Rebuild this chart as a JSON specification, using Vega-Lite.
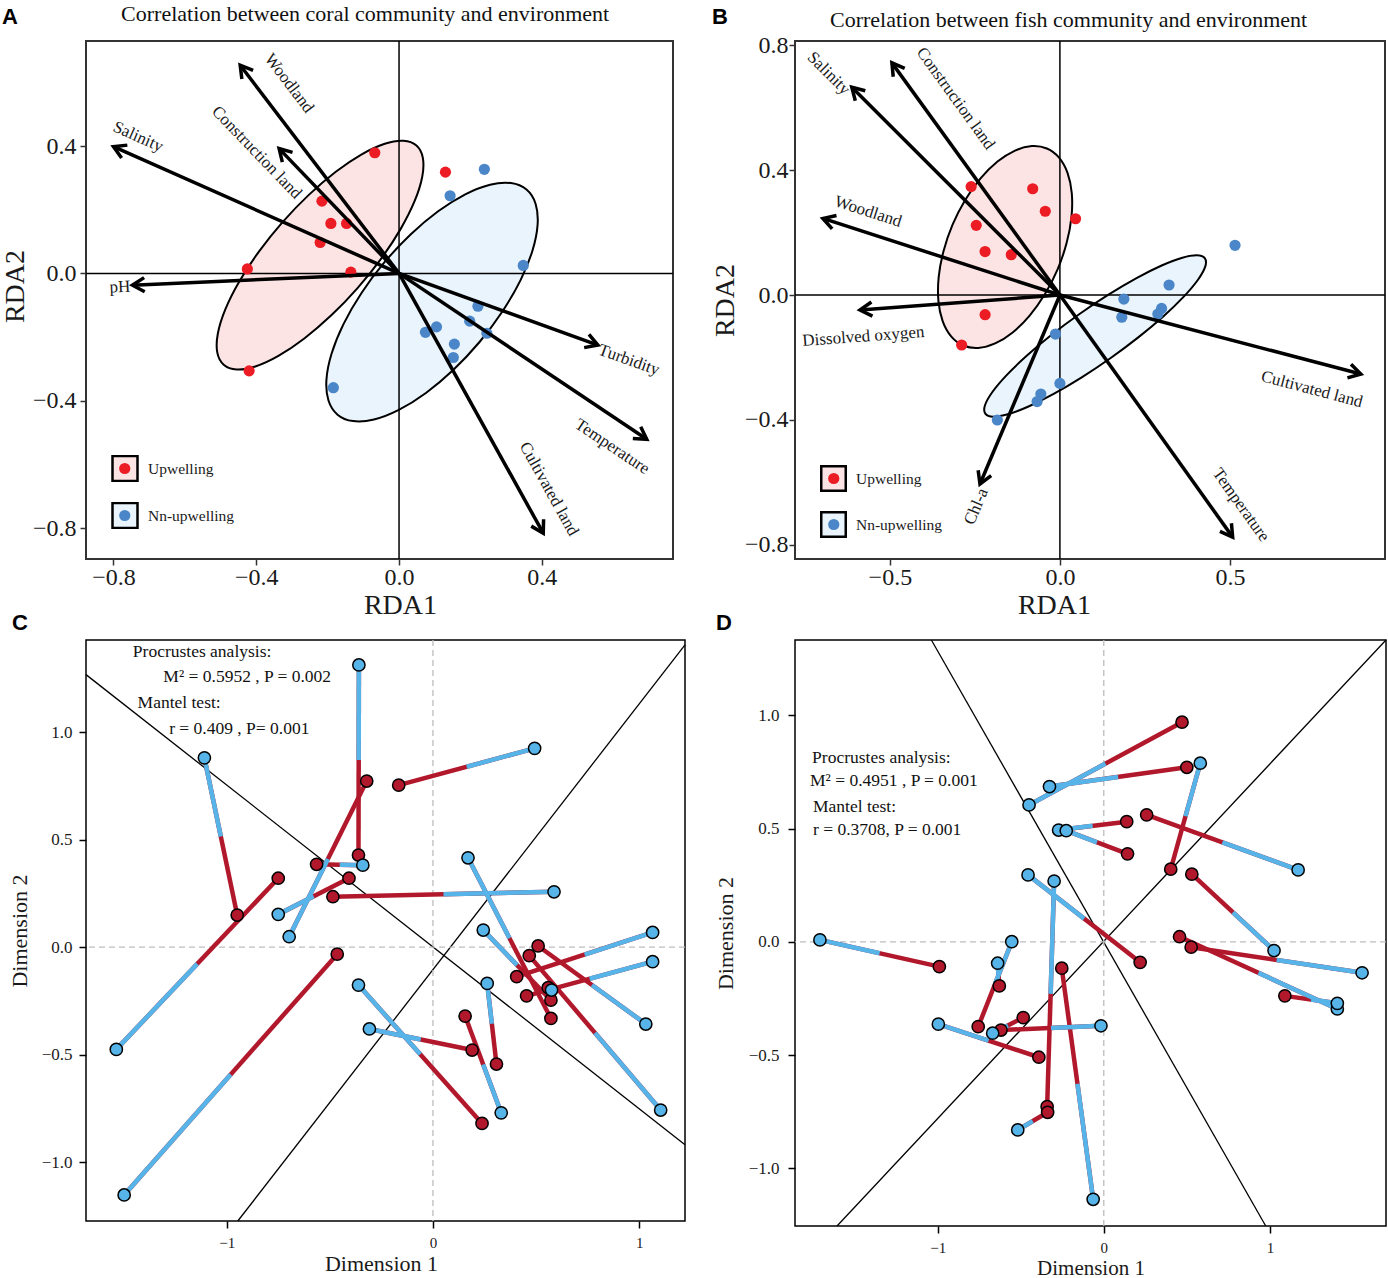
{
"$schema": "https://vega.github.io/schema/vega-lite/v6.json",
"background": "white",
"padding": {"left": 0, "top": 1, "right": 0, "bottom": 0},
"config": {
  "font": "Liberation Serif",
  "axis": {"grid": false, "domain": false, "labelFont": "Liberation Serif", "titleFont": "Liberation Serif", "titleFontWeight": "normal", "labelColor": "#1a1a1a", "titleColor": "#1a1a1a"},
  "legend": {"labelFont": "Liberation Serif"},
  "text": {"font": "Liberation Serif"}
},
"datasets": {
  "A_pts": [
    {"grp":"Upwelling","x":-0.068,"y":0.379},{"grp":"Upwelling","x":0.130,"y":0.318},{"grp":"Upwelling","x":-0.216,"y":0.227},
    {"grp":"Upwelling","x":-0.191,"y":0.157},{"grp":"Upwelling","x":-0.147,"y":0.157},{"grp":"Upwelling","x":-0.221,"y":0.097},
    {"grp":"Upwelling","x":-0.425,"y":0.014},{"grp":"Upwelling","x":-0.135,"y":0.004},{"grp":"Upwelling","x":-0.420,"y":-0.306},
    {"grp":"Nn-upwelling","x":0.239,"y":0.327},{"grp":"Nn-upwelling","x":0.143,"y":0.244},{"grp":"Nn-upwelling","x":0.348,"y":0.025},
    {"grp":"Nn-upwelling","x":0.221,"y":-0.103},{"grp":"Nn-upwelling","x":0.198,"y":-0.150},{"grp":"Nn-upwelling","x":0.246,"y":-0.188},
    {"grp":"Nn-upwelling","x":0.105,"y":-0.168},{"grp":"Nn-upwelling","x":0.074,"y":-0.185},{"grp":"Nn-upwelling","x":0.155,"y":-0.222},
    {"grp":"Nn-upwelling","x":0.152,"y":-0.264},{"grp":"Nn-upwelling","x":-0.184,"y":-0.359}
  ],
  "A_arr": [
    {"v":"Woodland","x":-0.445,"y":0.654,"lx":-0.308,"ly":0.597},
    {"v":"Construction land","x":-0.336,"y":0.392,"lx":-0.399,"ly":0.380},
    {"v":"Salinity","x":-0.800,"y":0.398,"lx":-0.731,"ly":0.429},
    {"v":"pH","x":-0.747,"y":-0.037,"lx":-0.782,"ly":-0.043},
    {"v":"Turbidity","x":0.557,"y":-0.225,"lx":0.644,"ly":-0.272},
    {"v":"Temperature","x":0.694,"y":-0.521,"lx":0.597,"ly":-0.544},
    {"v":"Cultivated land","x":0.404,"y":-0.816,"lx":0.420,"ly":-0.677}
  ],
  "A_ell": [
    {"g":"Upwelling","i":0,"x":0.0487,"y":0.4016},{"g":"Upwelling","i":1,"x":0.0667,"y":0.3631},{"g":"Upwelling","i":2,"x":0.0650,"y":0.3037},
    {"g":"Upwelling","i":3,"x":0.0438,"y":0.2275},{"g":"Upwelling","i":4,"x":0.0046,"y":0.1399},{"g":"Upwelling","i":5,"x":-0.0500,"y":0.0465},
    {"g":"Upwelling","i":6,"x":-0.1163,"y":-0.0461},{"g":"Upwelling","i":7,"x":-0.1898,"y":-0.1317},{"g":"Upwelling","i":8,"x":-0.2654,"y":-0.2043},
    {"g":"Upwelling","i":9,"x":-0.3380,"y":-0.2591},{"g":"Upwelling","i":10,"x":-0.4026,"y":-0.2923},{"g":"Upwelling","i":11,"x":-0.4549,"y":-0.3017},
    {"g":"Upwelling","i":12,"x":-0.4913,"y":-0.2866},{"g":"Upwelling","i":13,"x":-0.5093,"y":-0.2481},{"g":"Upwelling","i":14,"x":-0.5076,"y":-0.1887},
    {"g":"Upwelling","i":15,"x":-0.4864,"y":-0.1125},{"g":"Upwelling","i":16,"x":-0.4472,"y":-0.0249},{"g":"Upwelling","i":17,"x":-0.3926,"y":0.0685},
    {"g":"Upwelling","i":18,"x":-0.3263,"y":0.1611},{"g":"Upwelling","i":19,"x":-0.2528,"y":0.2467},{"g":"Upwelling","i":20,"x":-0.1772,"y":0.3193},
    {"g":"Upwelling","i":21,"x":-0.1046,"y":0.3741},{"g":"Upwelling","i":22,"x":-0.0400,"y":0.4073},{"g":"Upwelling","i":23,"x":0.0123,"y":0.4167},
    {"g":"Nn-upwelling","i":0,"x":0.3571,"y":0.2634},{"g":"Nn-upwelling","i":1,"x":0.3825,"y":0.2189},{"g":"Nn-upwelling","i":2,"x":0.3882,"y":0.1533},
    {"g":"Nn-upwelling","i":3,"x":0.3737,"y":0.0713},{"g":"Nn-upwelling","i":4,"x":0.3401,"y":-0.0218},{"g":"Nn-upwelling","i":5,"x":0.2895,"y":-0.1196},
    {"g":"Nn-upwelling","i":6,"x":0.2255,"y":-0.2154},{"g":"Nn-upwelling","i":7,"x":0.1525,"y":-0.3026},{"g":"Nn-upwelling","i":8,"x":0.0753,"y":-0.3754},
    {"g":"Nn-upwelling","i":9,"x":-0.0007,"y":-0.4287},{"g":"Nn-upwelling","i":10,"x":-0.0702,"y":-0.4589},{"g":"Nn-upwelling","i":11,"x":-0.1289,"y":-0.4639},
    {"g":"Nn-upwelling","i":12,"x":-0.1723,"y":-0.4436},{"g":"Nn-upwelling","i":13,"x":-0.1977,"y":-0.3991},{"g":"Nn-upwelling","i":14,"x":-0.2034,"y":-0.3335},
    {"g":"Nn-upwelling","i":15,"x":-0.1889,"y":-0.2515},{"g":"Nn-upwelling","i":16,"x":-0.1553,"y":-0.1584},{"g":"Nn-upwelling","i":17,"x":-0.1047,"y":-0.0606},
    {"g":"Nn-upwelling","i":18,"x":-0.0407,"y":0.0352},{"g":"Nn-upwelling","i":19,"x":0.0323,"y":0.1224},{"g":"Nn-upwelling","i":20,"x":0.1095,"y":0.1952},
    {"g":"Nn-upwelling","i":21,"x":0.1855,"y":0.2485},{"g":"Nn-upwelling","i":22,"x":0.2550,"y":0.2787},{"g":"Nn-upwelling","i":23,"x":0.3137,"y":0.2837}
  ],
  "B_pts": [
    {"grp":"Upwelling","x":-0.261,"y":0.347},{"grp":"Upwelling","x":-0.080,"y":0.340},{"grp":"Upwelling","x":-0.043,"y":0.268},
    {"grp":"Upwelling","x":0.046,"y":0.244},{"grp":"Upwelling","x":-0.246,"y":0.223},{"grp":"Upwelling","x":-0.220,"y":0.139},
    {"grp":"Upwelling","x":-0.143,"y":0.129},{"grp":"Upwelling","x":-0.220,"y":-0.063},{"grp":"Upwelling","x":-0.289,"y":-0.160},
    {"grp":"Nn-upwelling","x":0.515,"y":0.159},{"grp":"Nn-upwelling","x":0.321,"y":0.032},{"grp":"Nn-upwelling","x":0.188,"y":-0.013},
    {"grp":"Nn-upwelling","x":0.299,"y":-0.043},{"grp":"Nn-upwelling","x":0.288,"y":-0.061},{"grp":"Nn-upwelling","x":0.182,"y":-0.071},
    {"grp":"Nn-upwelling","x":-0.013,"y":-0.125},{"grp":"Nn-upwelling","x":0.0,"y":-0.283},{"grp":"Nn-upwelling","x":-0.056,"y":-0.317},
    {"grp":"Nn-upwelling","x":-0.067,"y":-0.341},{"grp":"Nn-upwelling","x":-0.184,"y":-0.400}
  ],
  "B_arr": [
    {"v":"Salinity","x":-0.612,"y":0.665,"lx":-0.680,"ly":0.709},
    {"v":"Construction land","x":-0.494,"y":0.743,"lx":-0.307,"ly":0.629},
    {"v":"Woodland","x":-0.697,"y":0.245,"lx":-0.564,"ly":0.267},
    {"v":"Dissolved oxygen","x":-0.588,"y":-0.048,"lx":-0.578,"ly":-0.133},
    {"v":"Chl-a","x":-0.235,"y":-0.605,"lx":-0.246,"ly":-0.677},
    {"v":"Temperature","x":0.508,"y":-0.775,"lx":0.532,"ly":-0.672},
    {"v":"Cultivated land","x":0.885,"y":-0.253,"lx":0.741,"ly":-0.302}
  ],
  "B_ell": [
    {"g":"Upwelling","i":0,"x":-0.0383,"y":0.4688},{"g":"Upwelling","i":1,"x":-0.0025,"y":0.4396},{"g":"Upwelling","i":2,"x":0.0224,"y":0.3909},
    {"g":"Upwelling","i":3,"x":0.0349,"y":0.3260},{"g":"Upwelling","i":4,"x":0.0340,"y":0.2494},{"g":"Upwelling","i":5,"x":0.0197,"y":0.1662},
    {"g":"Upwelling","i":6,"x":-0.0068,"y":0.0822},{"g":"Upwelling","i":7,"x":-0.0439,"y":0.0030},{"g":"Upwelling","i":8,"x":-0.0890,"y":-0.0658},
    {"g":"Upwelling","i":9,"x":-0.1389,"y":-0.1198},{"g":"Upwelling","i":10,"x":-0.1904,"y":-0.1551},{"g":"Upwelling","i":11,"x":-0.2399,"y":-0.1694},
    {"g":"Upwelling","i":12,"x":-0.2841,"y":-0.1616},{"g":"Upwelling","i":13,"x":-0.3199,"y":-0.1324},{"g":"Upwelling","i":14,"x":-0.3448,"y":-0.0837},
    {"g":"Upwelling","i":15,"x":-0.3573,"y":-0.0188},{"g":"Upwelling","i":16,"x":-0.3564,"y":0.0578},{"g":"Upwelling","i":17,"x":-0.3421,"y":0.1410},
    {"g":"Upwelling","i":18,"x":-0.3156,"y":0.2250},{"g":"Upwelling","i":19,"x":-0.2785,"y":0.3042},{"g":"Upwelling","i":20,"x":-0.2334,"y":0.3730},
    {"g":"Upwelling","i":21,"x":-0.1835,"y":0.4270},{"g":"Upwelling","i":22,"x":-0.1320,"y":0.4623},{"g":"Upwelling","i":23,"x":-0.0825,"y":0.4766},
    {"g":"Nn-upwelling","i":0,"x":0.4264,"y":0.1174},{"g":"Nn-upwelling","i":1,"x":0.4273,"y":0.0907},{"g":"Nn-upwelling","i":2,"x":0.4061,"y":0.0489},
    {"g":"Nn-upwelling","i":3,"x":0.3643,"y":-0.0052},{"g":"Nn-upwelling","i":4,"x":0.3047,"y":-0.0679},{"g":"Nn-upwelling","i":5,"x":0.2314,"y":-0.1349},
    {"g":"Nn-upwelling","i":6,"x":0.1494,"y":-0.2016},{"g":"Nn-upwelling","i":7,"x":0.0642,"y":-0.2635},{"g":"Nn-upwelling","i":8,"x":-0.0183,"y":-0.3165},
    {"g":"Nn-upwelling","i":9,"x":-0.0923,"y":-0.3568},{"g":"Nn-upwelling","i":10,"x":-0.1531,"y":-0.3817},{"g":"Nn-upwelling","i":11,"x":-0.1965,"y":-0.3895},
    {"g":"Nn-upwelling","i":12,"x":-0.2194,"y":-0.3798},{"g":"Nn-upwelling","i":13,"x":-0.2203,"y":-0.3531},{"g":"Nn-upwelling","i":14,"x":-0.1991,"y":-0.3113},
    {"g":"Nn-upwelling","i":15,"x":-0.1573,"y":-0.2572},{"g":"Nn-upwelling","i":16,"x":-0.0977,"y":-0.1945},{"g":"Nn-upwelling","i":17,"x":-0.0244,"y":-0.1275},
    {"g":"Nn-upwelling","i":18,"x":0.0576,"y":-0.0608},{"g":"Nn-upwelling","i":19,"x":0.1428,"y":0.0011},{"g":"Nn-upwelling","i":20,"x":0.2253,"y":0.0541},
    {"g":"Nn-upwelling","i":21,"x":0.2993,"y":0.0944},{"g":"Nn-upwelling","i":22,"x":0.3601,"y":0.1193},{"g":"Nn-upwelling","i":23,"x":0.4035,"y":0.1271}
  ],
  "C_pairs": [
    {"bx":-0.359,"by":1.312,"rx":-0.361,"ry":0.428},{"bx":-0.697,"by":0.048,"rx":-0.321,"ry":0.772},
    {"bx":-0.340,"by":0.381,"rx":-0.564,"ry":0.385},{"bx":-1.108,"by":0.880,"rx":-0.949,"ry":0.149},
    {"bx":-1.535,"by":-0.476,"rx":-0.750,"ry":0.320},{"bx":-0.750,"by":0.152,"rx":-0.407,"ry":0.320},
    {"bx":0.587,"by":0.257,"rx":-0.485,"ry":0.234},{"bx":0.493,"by":0.924,"rx":-0.166,"ry":0.753},
    {"bx":0.170,"by":0.415,"rx":0.572,"ry":-0.332},{"bx":0.244,"by":0.079,"rx":0.572,"ry":-0.247},
    {"bx":1.065,"by":0.068,"rx":0.406,"ry":-0.138},{"bx":1.065,"by":-0.068,"rx":0.454,"ry":-0.227},
    {"bx":1.032,"by":-0.358,"rx":0.510,"ry":0.005},{"bx":1.104,"by":-0.758,"rx":0.467,"ry":-0.040},
    {"bx":0.575,"by":-0.200,"rx":0.559,"ry":-0.189},{"bx":0.263,"by":-0.169,"rx":0.308,"ry":-0.544},
    {"bx":0.331,"by":-0.771,"rx":0.156,"ry":-0.321},{"bx":-0.308,"by":-0.381,"rx":0.190,"ry":-0.479},
    {"bx":-0.361,"by":-0.177,"rx":0.238,"ry":-0.820},{"bx":-1.497,"by":-1.153,"rx":-0.464,"ry":-0.033}
  ],
  "C_rot": [
    {"x1":-1.682,"y1":1.267,"x2":1.222,"y2":-0.919},
    {"x1":-0.946,"y1":-1.274,"x2":1.222,"y2":1.405}
  ],
  "D_pairs": [
    {"bx":-0.450,"by":0.605,"rx":0.471,"ry":0.970},{"bx":-0.327,"by":0.686,"rx":0.500,"ry":0.771},
    {"bx":0.581,"by":0.789,"rx":0.403,"ry":0.321},{"bx":-0.272,"by":0.494,"rx":0.138,"ry":0.531},
    {"bx":-0.226,"by":0.491,"rx":0.143,"ry":0.389},{"bx":1.170,"by":0.318,"rx":0.258,"ry":0.561},
    {"bx":1.025,"by":-0.038,"rx":0.530,"ry":0.299},{"bx":-0.456,"by":0.296,"rx":0.219,"ry":-0.090},
    {"bx":-0.299,"by":0.269,"rx":-0.341,"ry":-0.727},{"bx":-1.709,"by":0.009,"rx":-0.990,"ry":-0.109},
    {"bx":-0.554,"by":0.001,"rx":-0.756,"ry":-0.374},{"bx":-0.639,"by":-0.094,"rx":-0.629,"ry":-0.194},
    {"bx":-0.017,"by":-0.370,"rx":-0.619,"ry":-0.389},{"bx":-0.669,"by":-0.403,"rx":-0.485,"ry":-0.334},
    {"bx":-0.996,"by":-0.363,"rx":-0.391,"ry":-0.509},{"bx":-0.064,"by":-1.136,"rx":-0.253,"ry":-0.116},
    {"bx":-0.518,"by":-0.830,"rx":-0.338,"ry":-0.752},{"bx":1.555,"by":-0.136,"rx":0.526,"ry":-0.023},
    {"bx":1.406,"by":-0.296,"rx":0.456,"ry":0.023},{"bx":1.406,"by":-0.271,"rx":1.090,"ry":-0.238}
  ],
  "D_rot": [
    {"x1":-1.038,"y1":1.333,"x2":0.975,"y2":-1.254},
    {"x1":-1.606,"y1":-1.254,"x2":1.699,"y2":1.333}
  ]
},
"columns": 2,
"bounds": "flush",
"spacing": {"row": 81, "column": 110},
"resolve": {"scale": {"color": "independent", "fill": "independent"}},
"concat": [
  {
    "width": 587, "height": 518,
    "view": {"stroke": "#333", "strokeWidth": 2},
    "layer": [
      {
        "data": {"name": "A_ell"},
        "mark": {"type": "line", "interpolate": "cardinal-closed", "stroke": "black", "strokeWidth": 2},
        "encoding": {
          "x": {"field": "x", "type": "quantitative", "scale": {"domain": [-0.877, 0.7675], "nice": false, "zero": false},
                "axis": {"title": "RDA1", "values": [-0.8, -0.4, 0, 0.4], "format": ".1f", "tickSize": 6, "tickWidth": 1.5, "tickColor": "#333", "labelFontSize": 24, "labelPadding": 0, "titleFontSize": 28, "titlePadding": 2, "titleX": 314}},
          "y": {"field": "y", "type": "quantitative", "scale": {"domain": [-0.897, 0.730], "nice": false, "zero": false},
                "axis": {"title": "RDA2", "values": [-0.8, -0.4, 0, 0.4], "format": ".1f", "tickSize": 6, "tickWidth": 1.5, "tickColor": "#333", "labelFontSize": 24, "labelPadding": 4, "minExtent": 52, "maxExtent": 52, "titleFontSize": 28, "titlePadding": 4.5, "titleY": 245}},
          "order": {"field": "i", "type": "quantitative"},
          "fill": {"field": "g", "type": "nominal", "scale": {"domain": ["Upwelling", "Nn-upwelling"], "range": ["#fde4e4", "#e9f4fc"]},
                   "legend": {"title": null, "orient": "none", "legendX": 25, "legendY": 414, "symbolType": "square", "symbolSize": 625, "symbolStrokeColor": "black", "symbolStrokeWidth": 2.5, "symbolOpacity": 1, "labelFontSize": 15.5, "labelColor": "#1a1a1a", "labelOffset": 9, "rowPadding": 20, "clipHeight": 27, "padding": 0, "zindex": 0}}
        }
      },
      {"data": {"values": [{}]}, "mark": {"type": "rule", "color": "black", "strokeWidth": 1.5}, "encoding": {"x": {"datum": 0, "type": "quantitative"}}},
      {"data": {"values": [{}]}, "mark": {"type": "rule", "color": "black", "strokeWidth": 1.5}, "encoding": {"y": {"datum": 0, "type": "quantitative"}}},
      {
        "data": {"name": "A_pts"},
        "mark": {"type": "circle", "size": 125, "opacity": 1},
        "encoding": {
          "x": {"field": "x", "type": "quantitative"},
          "y": {"field": "y", "type": "quantitative"},
          "color": {"field": "grp", "type": "nominal", "sort": ["Upwelling", "Nn-upwelling"], "scale": {"range": ["#ec1c24", "#4a86c8"]},
                    "legend": {"title": null, "orient": "none", "legendX": 31, "legendY": 414, "symbolType": "circle", "symbolSize": 125, "symbolStrokeWidth": 0, "symbolOpacity": 1, "labelFontSize": 15.5, "labelExpr": "''", "labelOffset": 9, "rowPadding": 20, "clipHeight": 27, "padding": 0, "zindex": 1}}
        }
      },
      {
        "data": {"name": "A_arr"},
        "mark": {"type": "rule", "color": "black", "strokeWidth": 3.5},
        "encoding": {"x": {"field": "x", "type": "quantitative"}, "y": {"field": "y", "type": "quantitative"}, "x2": {"datum": 0}, "y2": {"datum": 0}}
      },
      {
        "data": {"name": "A_arr"},
        "transform": [{"calculate": "-atan2(datum.y*318.5, datum.x*357)*180/PI", "as": "hd"}],
        "mark": {"type": "point", "shape": "M -1.7 -1 L 0 0 L -1.7 1", "filled": false, "stroke": "black", "strokeWidth": 3.5, "size": 200, "opacity": 1},
        "encoding": {"x": {"field": "x", "type": "quantitative"}, "y": {"field": "y", "type": "quantitative"}, "angle": {"field": "hd", "type": "quantitative", "scale": null}}
      },
      {
        "data": {"name": "A_arr"},
        "transform": [{"calculate": "-atan(datum.y*318.5/(datum.x*357))*180/PI", "as": "ta"}],
        "mark": {"type": "text", "fontSize": 17, "color": "#1a1a1a"},
        "encoding": {"x": {"field": "lx", "type": "quantitative"}, "y": {"field": "ly", "type": "quantitative"}, "text": {"field": "v", "type": "nominal"}, "angle": {"field": "ta", "type": "quantitative", "scale": null}}
      },
      {
        "data": {"values": [{}]},
        "mark": {"type": "text", "fontSize": 22, "align": "center", "baseline": "alphabetic", "color": "#111"},
        "encoding": {"x": {"datum": -0.095, "type": "quantitative"}, "y": {"datum": 0.793, "type": "quantitative"}, "text": {"value": "Correlation between coral community and environment"}}
      },
      {
        "data": {"values": [{}]},
        "mark": {"type": "text", "font": "Liberation Sans", "fontWeight": "bold", "fontSize": 22, "align": "left", "baseline": "alphabetic", "color": "black"},
        "encoding": {"x": {"datum": -1.112, "type": "quantitative"}, "y": {"datum": 0.783, "type": "quantitative"}, "text": {"value": "A"}}
      }
    ]
  },
  {
    "width": 590, "height": 518,
    "view": {"stroke": "#333", "strokeWidth": 2},
    "layer": [
      {
        "data": {"name": "B_ell"},
        "mark": {"type": "line", "interpolate": "cardinal-closed", "stroke": "black", "strokeWidth": 2},
        "encoding": {
          "x": {"field": "x", "type": "quantitative", "scale": {"domain": [-0.779, 0.956], "nice": false, "zero": false},
                "axis": {"title": "RDA1", "values": [-0.5, 0, 0.5], "format": ".1f", "tickSize": 6, "tickWidth": 1.5, "tickColor": "#333", "labelFontSize": 24, "labelPadding": 0, "titleFontSize": 28, "titlePadding": 2, "titleX": 259}},
          "y": {"field": "y", "type": "quantitative", "scale": {"domain": [-0.845, 0.813], "nice": false, "zero": false},
                "axis": {"title": "RDA2", "values": [-0.8, -0.4, 0, 0.4, 0.8], "format": ".1f", "tickSize": 6, "tickWidth": 1.5, "tickColor": "#333", "labelFontSize": 24, "labelPadding": 1, "minExtent": 49, "maxExtent": 49, "titleFontSize": 28, "titlePadding": 7}},
          "order": {"field": "i", "type": "quantitative"},
          "fill": {"field": "g", "type": "nominal", "scale": {"domain": ["Upwelling", "Nn-upwelling"], "range": ["#fde4e4", "#e9f4fc"]},
                   "legend": {"title": null, "orient": "none", "legendX": 25, "legendY": 424, "symbolType": "square", "symbolSize": 600, "symbolStrokeColor": "black", "symbolStrokeWidth": 2.5, "symbolOpacity": 1, "labelFontSize": 15.5, "labelColor": "#1a1a1a", "labelOffset": 9, "rowPadding": 19, "clipHeight": 27, "padding": 0, "zindex": 0}}
        }
      },
      {"data": {"values": [{}]}, "mark": {"type": "rule", "color": "black", "strokeWidth": 1.5}, "encoding": {"x": {"datum": 0, "type": "quantitative"}}},
      {"data": {"values": [{}]}, "mark": {"type": "rule", "color": "black", "strokeWidth": 1.5}, "encoding": {"y": {"datum": 0, "type": "quantitative"}}},
      {
        "data": {"name": "B_pts"},
        "mark": {"type": "circle", "size": 125, "opacity": 1},
        "encoding": {
          "x": {"field": "x", "type": "quantitative"},
          "y": {"field": "y", "type": "quantitative"},
          "color": {"field": "grp", "type": "nominal", "sort": ["Upwelling", "Nn-upwelling"], "scale": {"range": ["#ec1c24", "#4a86c8"]},
                    "legend": {"title": null, "orient": "none", "legendX": 31, "legendY": 424, "symbolType": "circle", "symbolSize": 125, "symbolStrokeWidth": 0, "symbolOpacity": 1, "labelFontSize": 15.5, "labelExpr": "''", "labelOffset": 9, "rowPadding": 19, "clipHeight": 27, "padding": 0, "zindex": 1}}
        }
      },
      {
        "data": {"name": "B_arr"},
        "mark": {"type": "rule", "color": "black", "strokeWidth": 3.5},
        "encoding": {"x": {"field": "x", "type": "quantitative"}, "y": {"field": "y", "type": "quantitative"}, "x2": {"datum": 0}, "y2": {"datum": 0}}
      },
      {
        "data": {"name": "B_arr"},
        "transform": [{"calculate": "-atan2(datum.y*312.5, datum.x*340)*180/PI", "as": "hd"}],
        "mark": {"type": "point", "shape": "M -1.7 -1 L 0 0 L -1.7 1", "filled": false, "stroke": "black", "strokeWidth": 3.5, "size": 200, "opacity": 1},
        "encoding": {"x": {"field": "x", "type": "quantitative"}, "y": {"field": "y", "type": "quantitative"}, "angle": {"field": "hd", "type": "quantitative", "scale": null}}
      },
      {
        "data": {"name": "B_arr"},
        "transform": [{"calculate": "-atan(datum.y*312.5/(datum.x*340))*180/PI", "as": "ta"}],
        "mark": {"type": "text", "fontSize": 17, "color": "#1a1a1a"},
        "encoding": {"x": {"field": "lx", "type": "quantitative"}, "y": {"field": "ly", "type": "quantitative"}, "text": {"field": "v", "type": "nominal"}, "angle": {"field": "ta", "type": "quantitative", "scale": null}}
      },
      {
        "data": {"values": [{}]},
        "mark": {"type": "text", "fontSize": 22, "align": "center", "baseline": "alphabetic", "color": "#111"},
        "encoding": {"x": {"datum": 0.0256, "type": "quantitative"}, "y": {"datum": 0.859, "type": "quantitative"}, "text": {"value": "Correlation between fish community and environment"}}
      },
      {
        "data": {"values": [{}]},
        "mark": {"type": "text", "font": "Liberation Sans", "fontWeight": "bold", "fontSize": 22, "align": "left", "baseline": "alphabetic", "color": "black"},
        "encoding": {"x": {"datum": -1.023, "type": "quantitative"}, "y": {"datum": 0.869, "type": "quantitative"}, "text": {"value": "B"}}
      }
    ]
  },
  {
    "width": 599, "height": 581,
    "view": {"stroke": "black", "strokeWidth": 1.5},
    "layer": [
      {
        "data": {"name": "C_rot"},
        "mark": {"type": "rule", "color": "black", "strokeWidth": 1.3},
        "encoding": {
          "x": {"field": "x1", "type": "quantitative", "scale": {"domain": [-1.682, 1.222], "nice": false, "zero": false},
                "axis": {"title": "Dimension 1", "values": [-1, 0, 1], "format": "d", "tickSize": 7, "tickWidth": 1.5, "tickColor": "black", "labelFontSize": 15, "labelPadding": 7, "titleFontSize": 22, "titlePadding": 3, "titleX": 295}},
          "y": {"field": "y1", "type": "quantitative", "scale": {"domain": [-1.274, 1.428], "nice": false, "zero": false},
                "axis": {"title": "Dimension 2", "values": [-1, -0.5, 0, 0.5, 1], "format": ".1f", "tickSize": 7, "tickWidth": 1.5, "tickColor": "black", "labelFontSize": 17, "labelPadding": 7, "minExtent": 45, "maxExtent": 45, "titleFontSize": 22, "titlePadding": 10}},
          "x2": {"field": "x2"}, "y2": {"field": "y2"}
        }
      },
      {"data": {"values": [{}]}, "mark": {"type": "rule", "color": "#bdbdbd", "strokeWidth": 1.3, "strokeDash": [6, 4]}, "encoding": {"x": {"datum": 0, "type": "quantitative"}}},
      {"data": {"values": [{}]}, "mark": {"type": "rule", "color": "#bdbdbd", "strokeWidth": 1.3, "strokeDash": [6, 4]}, "encoding": {"y": {"datum": 0, "type": "quantitative"}}},
      {
        "data": {"name": "C_pairs"},
        "mark": {"type": "rule", "color": "#b2182b", "strokeWidth": 4.5},
        "encoding": {"x": {"field": "rx", "type": "quantitative"}, "y": {"field": "ry", "type": "quantitative"}, "x2": {"field": "bx"}, "y2": {"field": "by"}}
      },
      {
        "data": {"name": "C_pairs"},
        "transform": [{"calculate": "(datum.bx+datum.rx)/2", "as": "mx"}, {"calculate": "(datum.by+datum.ry)/2", "as": "my"}],
        "mark": {"type": "rule", "color": "#56b4e9", "strokeWidth": 4.5},
        "encoding": {"x": {"field": "bx", "type": "quantitative"}, "y": {"field": "by", "type": "quantitative"}, "x2": {"field": "mx"}, "y2": {"field": "my"}}
      },
      {
        "data": {"name": "C_pairs"},
        "mark": {"type": "circle", "size": 150, "fill": "#b2182b", "stroke": "black", "strokeWidth": 1.5, "opacity": 1},
        "encoding": {"x": {"field": "rx", "type": "quantitative"}, "y": {"field": "ry", "type": "quantitative"}}
      },
      {
        "data": {"name": "C_pairs"},
        "mark": {"type": "circle", "size": 150, "fill": "#56b4e9", "stroke": "black", "strokeWidth": 1.5, "opacity": 1},
        "encoding": {"x": {"field": "bx", "type": "quantitative"}, "y": {"field": "by", "type": "quantitative"}}
      },
      {"data": {"values": [{}]}, "mark": {"type": "text", "fontSize": 17.5, "align": "left", "color": "#111"}, "encoding": {"x": {"datum": -1.455, "type": "quantitative"}, "y": {"datum": 1.373, "type": "quantitative"}, "text": {"value": "Procrustes analysis:"}}},
      {"data": {"values": [{}]}, "mark": {"type": "text", "fontSize": 17.5, "align": "left", "color": "#111"}, "encoding": {"x": {"datum": -1.307, "type": "quantitative"}, "y": {"datum": 1.257, "type": "quantitative"}, "text": {"value": "M² = 0.5952 , P = 0.002"}}},
      {"data": {"values": [{}]}, "mark": {"type": "text", "fontSize": 17.5, "align": "left", "color": "#111"}, "encoding": {"x": {"datum": -1.432, "type": "quantitative"}, "y": {"datum": 1.136, "type": "quantitative"}, "text": {"value": "Mantel test:"}}},
      {"data": {"values": [{}]}, "mark": {"type": "text", "fontSize": 17.5, "align": "left", "color": "#111"}, "encoding": {"x": {"datum": -1.279, "type": "quantitative"}, "y": {"datum": 1.014, "type": "quantitative"}, "text": {"value": "r = 0.409 , P= 0.001"}}},
      {
        "data": {"values": [{}]},
        "mark": {"type": "text", "font": "Liberation Sans", "fontWeight": "bold", "fontSize": 22, "align": "left", "baseline": "alphabetic", "color": "black"},
        "encoding": {"x": {"datum": -2.041, "type": "quantitative"}, "y": {"datum": 1.474, "type": "quantitative"}, "text": {"value": "C"}}
      }
    ]
  },
  {
    "width": 591, "height": 586,
    "view": {"stroke": "black", "strokeWidth": 1.5},
    "layer": [
      {
        "data": {"name": "D_rot"},
        "mark": {"type": "rule", "color": "black", "strokeWidth": 1.3},
        "encoding": {
          "x": {"field": "x1", "type": "quantitative", "scale": {"domain": [-1.859, 1.699], "nice": false, "zero": false},
                "axis": {"title": "Dimension 1", "values": [-1, 0, 1], "format": "d", "tickSize": 7, "tickWidth": 1.5, "tickColor": "black", "labelFontSize": 15, "labelPadding": 7, "titleFontSize": 21, "titlePadding": 2}},
          "y": {"field": "y1", "type": "quantitative", "scale": {"domain": [-1.254, 1.333], "nice": false, "zero": false},
                "axis": {"title": "Dimension 2", "values": [-1, -0.5, 0, 0.5, 1], "format": ".1f", "tickSize": 7, "tickWidth": 1.5, "tickColor": "black", "labelFontSize": 17, "labelPadding": 9, "minExtent": 47, "maxExtent": 47, "titleFontSize": 22, "titlePadding": 11}},
          "x2": {"field": "x2"}, "y2": {"field": "y2"}
        }
      },
      {"data": {"values": [{}]}, "mark": {"type": "rule", "color": "#bdbdbd", "strokeWidth": 1.3, "strokeDash": [6, 4]}, "encoding": {"x": {"datum": 0, "type": "quantitative"}}},
      {"data": {"values": [{}]}, "mark": {"type": "rule", "color": "#bdbdbd", "strokeWidth": 1.3, "strokeDash": [6, 4]}, "encoding": {"y": {"datum": 0, "type": "quantitative"}}},
      {
        "data": {"name": "D_pairs"},
        "mark": {"type": "rule", "color": "#b2182b", "strokeWidth": 4.5},
        "encoding": {"x": {"field": "rx", "type": "quantitative"}, "y": {"field": "ry", "type": "quantitative"}, "x2": {"field": "bx"}, "y2": {"field": "by"}}
      },
      {
        "data": {"name": "D_pairs"},
        "transform": [{"calculate": "(datum.bx+datum.rx)/2", "as": "mx"}, {"calculate": "(datum.by+datum.ry)/2", "as": "my"}],
        "mark": {"type": "rule", "color": "#56b4e9", "strokeWidth": 4.5},
        "encoding": {"x": {"field": "bx", "type": "quantitative"}, "y": {"field": "by", "type": "quantitative"}, "x2": {"field": "mx"}, "y2": {"field": "my"}}
      },
      {
        "data": {"name": "D_pairs"},
        "mark": {"type": "circle", "size": 150, "fill": "#b2182b", "stroke": "black", "strokeWidth": 1.5, "opacity": 1},
        "encoding": {"x": {"field": "rx", "type": "quantitative"}, "y": {"field": "ry", "type": "quantitative"}}
      },
      {
        "data": {"name": "D_pairs"},
        "mark": {"type": "circle", "size": 150, "fill": "#56b4e9", "stroke": "black", "strokeWidth": 1.5, "opacity": 1},
        "encoding": {"x": {"field": "bx", "type": "quantitative"}, "y": {"field": "by", "type": "quantitative"}}
      },
      {"data": {"values": [{}]}, "mark": {"type": "text", "fontSize": 17.5, "align": "left", "color": "#111"}, "encoding": {"x": {"datum": -1.756, "type": "quantitative"}, "y": {"datum": 0.811, "type": "quantitative"}, "text": {"value": "Procrustes analysis:"}}},
      {"data": {"values": [{}]}, "mark": {"type": "text", "fontSize": 17.5, "align": "left", "color": "#111"}, "encoding": {"x": {"datum": -1.769, "type": "quantitative"}, "y": {"datum": 0.711, "type": "quantitative"}, "text": {"value": "M² = 0.4951 , P = 0.001"}}},
      {"data": {"values": [{}]}, "mark": {"type": "text", "fontSize": 17.5, "align": "left", "color": "#111"}, "encoding": {"x": {"datum": -1.751, "type": "quantitative"}, "y": {"datum": 0.597, "type": "quantitative"}, "text": {"value": "Mantel test:"}}},
      {"data": {"values": [{}]}, "mark": {"type": "text", "fontSize": 17.5, "align": "left", "color": "#111"}, "encoding": {"x": {"datum": -1.751, "type": "quantitative"}, "y": {"datum": 0.494, "type": "quantitative"}, "text": {"value": "r = 0.3708, P = 0.001"}}},
      {
        "data": {"values": [{}]},
        "mark": {"type": "text", "font": "Liberation Sans", "fontWeight": "bold", "fontSize": 22, "align": "left", "baseline": "alphabetic", "color": "black"},
        "encoding": {"x": {"datum": -2.335, "type": "quantitative"}, "y": {"datum": 1.377, "type": "quantitative"}, "text": {"value": "D"}}
      }
    ]
  }
]
}
